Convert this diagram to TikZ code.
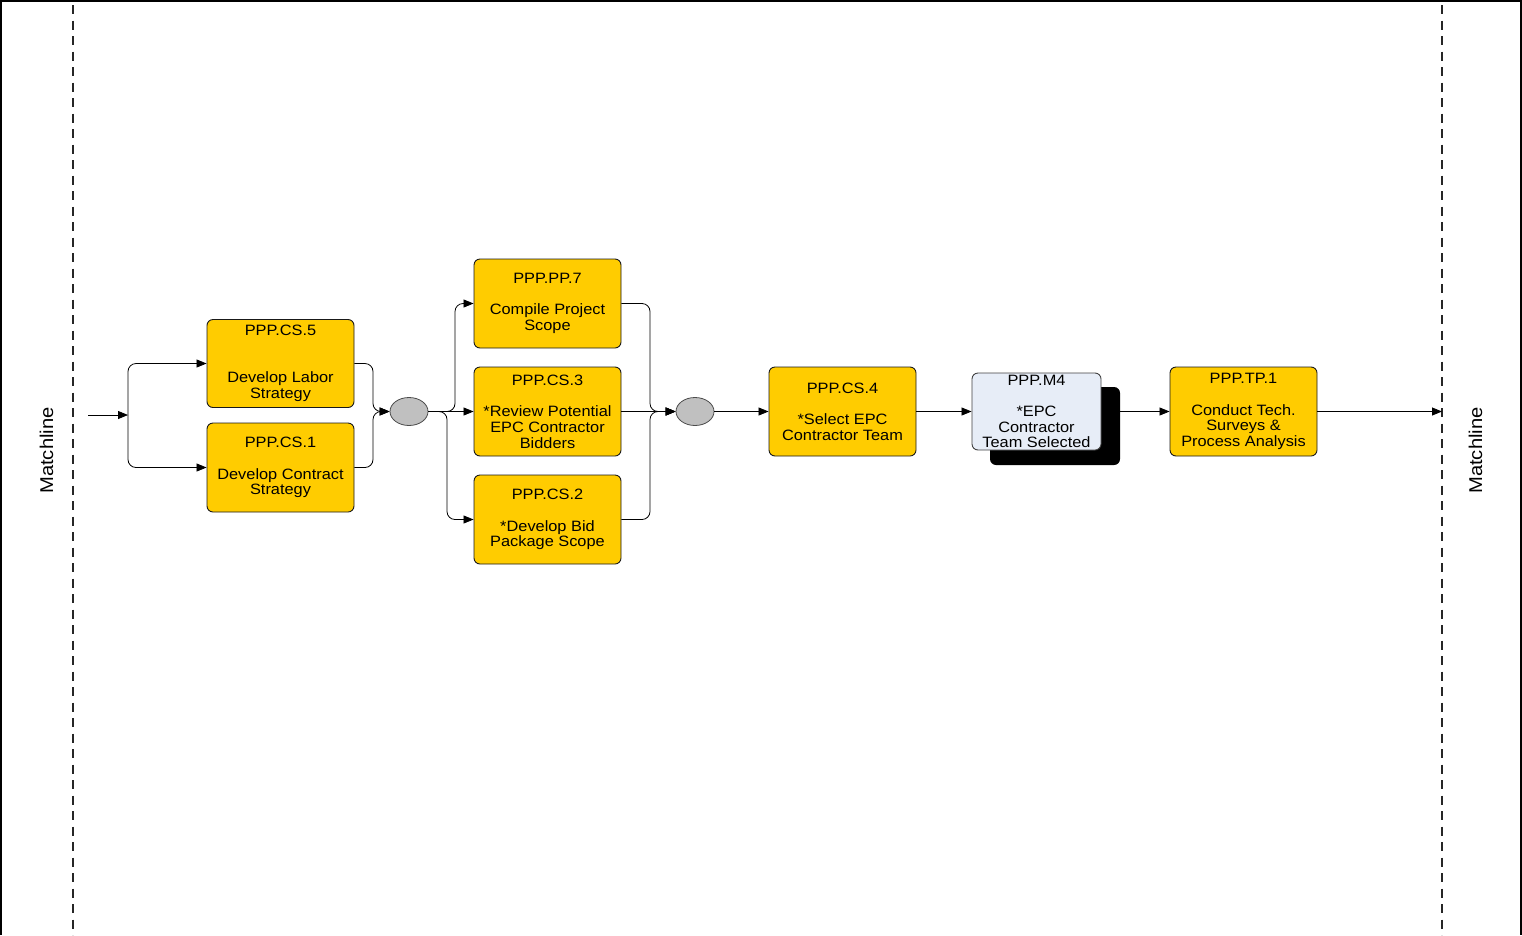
\documentclass[tikz,border=0pt]{standalone}
\usepackage{fontspec}
\setmainfont{Liberation Sans}[FakeStretch=1.09]
\usetikzlibrary{arrows.meta,shapes.geometric}
\definecolor{taskfill}{HTML}{FFCC00}
\definecolor{milefill}{HTML}{E7EDF7}
\definecolor{gatefill}{HTML}{C0C0C0}
\begin{document}
\begin{tikzpicture}[x=1pt,y=-1pt,
  task/.style={draw=black!90, fill=taskfill, rounded corners=6pt,
    minimum width=147pt, minimum height=89pt, align=center, inner sep=0pt,
    font=\fontsize{15}{15.7}\selectfont, line width=0.9pt},
  milestone/.style={task, fill=milefill, draw=black!75, minimum width=129pt, minimum height=77pt},
  shadowbox/.style={fill=black, rounded corners=6pt, minimum width=130pt, minimum height=78pt, inner sep=0pt},
  gate/.style={ellipse, draw=black!70, fill=gatefill, minimum width=38pt, minimum height=28pt, inner sep=0pt, line width=0.8pt},
  conn/.style={line width=0.8pt, rounded corners=8pt},
  arr/.style={conn, -{Triangle[length=10pt,width=8pt]}},
  frameline/.style={line width=2pt},
  matchline/.style={line width=1.3pt, black!85, dash pattern=on 9pt off 6.5pt},
  matchlabel/.style={rotate=90, font=\fontsize{18.5}{20}\selectfont}
]
\useasboundingbox (0,0) rectangle (1522,935);

% page frame (left, top, right)
\draw[frameline] (1,935) -- (1,1) -- (1521,1) -- (1521,935);

% matchlines
\draw[matchline] (73,5) -- (73,935);
\draw[matchline] (1442,5) -- (1442,935);
\node[matchlabel] (mlL) at (46.5,450.5) {Matchline};
\node[matchlabel] (mlR) at (1475.5,450.5) {Matchline};

% tasks
\node[task, minimum height=88pt] (cs5) at (280.5,363.5) {PPP.CS.5\\\mbox{}\\\mbox{}\\Develop Labor\\Strategy};
\node[task] (cs1) at (280.5,467.5) {PPP.CS.1\\\mbox{}\\Develop Contract\\Strategy};
\node[task] (pp7) at (547.5,303.5) {PPP.PP.7\\\mbox{}\\Compile Project\\Scope};
\node[task] (cs3) at (547.5,411.5) {PPP.CS.3\\\mbox{}\\*Review Potential\\EPC Contractor\\Bidders};
\node[task] (cs2) at (547.5,519.5) {PPP.CS.2\\\mbox{}\\*Develop Bid\\Package Scope};
\node[task] (cs4) at (842.5,411.5) {PPP.CS.4\\\mbox{}\\*Select EPC\\Contractor Team};
\node[shadowbox] (m4s) at (1055,426) {};
\node[milestone] (m4) at (1036.5,411.5) {PPP.M4\\\mbox{}\\*EPC\\Contractor\\Team Selected};
\node[task] (tp1) at (1243.5,411.5) {PPP.TP.1\\\mbox{}\\Conduct Tech.\\Surveys \&\\Process Analysis};

% gateways
\node[gate] (g1) at (409,411.5) {};
\node[gate] (g2) at (695,411.5) {};

% connector helpers
\coordinate (in) at (88,415);
\coordinate (f1) at (128,415);
\coordinate (j1) at (373,411.5);
\coordinate (s1) at (455,411.5);
\coordinate (s2) at (447,411.5);
\coordinate (j2) at (650,411.5);
\coordinate (out) at (1442,411.5);

% connectors
\draw[arr] (in) -- (f1);
\draw[arr] (f1) |- (cs5.west);
\draw[arr] (f1) |- (cs1.west);
\draw[arr] (cs5.east) -| (j1) -- (g1.west);
\draw[arr] (cs1.east) -| (j1) -- (g1.west);
\draw[arr] (g1.east) -- (s1) |- (pp7.west);
\draw[arr] (g1.east) -- (cs3.west);
\draw[arr] (g1.east) -- (s2) |- (cs2.west);
\draw[arr] (pp7.east) -| (j2) -- (g2.west);
\draw[arr] (cs3.east) -- (g2.west);
\draw[arr] (cs2.east) -| (j2) -- (g2.west);
\draw[arr] (g2.east) -- (cs4.west);
\draw[arr] (cs4.east) -- (m4.west);
\draw[arr] (m4s.east |- tp1.west) -- (tp1.west);
\draw[arr] (tp1.east) -- (out);
\end{tikzpicture}
\end{document}
